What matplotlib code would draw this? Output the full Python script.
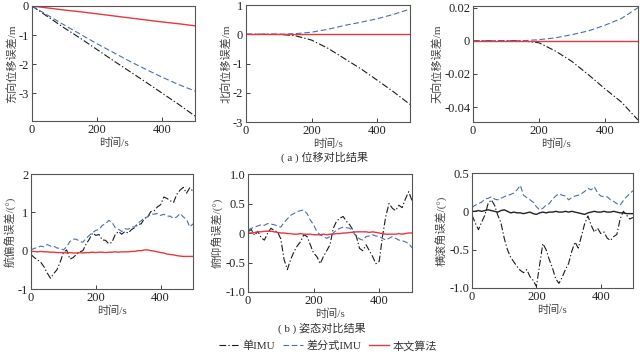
import numpy as np
import matplotlib
matplotlib.use('Agg')
import matplotlib.pyplot as plt

plt.rcParams['font.family'] = ['Liberation Serif', 'Noto Sans CJK SC']
plt.rcParams['axes.unicode_minus'] = False

# --- position errors (sampled every 50 s) ---
t_pos = [0, 50, 100, 150, 200, 250, 300, 350, 400, 450, 500]
east_single = [0, -0.38, -0.76, -1.12, -1.5, -1.88, -2.25, -2.62, -3.0, -3.38, -3.78]
east_diff = [0, -0.33, -0.66, -0.98, -1.3, -1.6, -1.9, -2.18, -2.45, -2.7, -2.92]
east_ours = [0, -0.07, -0.14, -0.2, -0.27, -0.34, -0.41, -0.48, -0.55, -0.61, -0.68]

north_single = [0, 0.0, 0.0, -0.05, -0.2, -0.48, -0.83, -1.18, -1.57, -1.97, -2.4]
north_diff = [0, 0.0, 0.0, 0.02, 0.07, 0.17, 0.3, 0.41, 0.53, 0.68, 0.86]
north_ours = [0, 0, 0, 0, 0, 0, 0, 0, 0, 0, 0]

up_single = [0, 0, 0, 0, -0.0012, -0.0062, -0.0125, -0.0205, -0.029, -0.037, -0.0478]
up_diff = [0, 0, 0, 0, 0.0007, 0.0018, 0.0037, 0.006, 0.0094, 0.0135, 0.02]
up_ours = [0, 0, 0, 0, 0, 0, 0, 0, 0, 0, 0]

# --- attitude errors (sampled every 10 s) ---
t_att = list(range(0, 501, 10))
yaw_single = [-0.1, -0.18, -0.24, -0.3, -0.42, -0.58, -0.72, -0.6, -0.5, -0.3,
              -0.05, 0.02, -0.22, -0.18, -0.1, -0.03, 0.0, 0.17, 0.3, 0.46,
              0.4, 0.42, 0.28, 0.27, 0.18, 0.22, 0.42, 0.5, 0.43, 0.5,
              0.46, 0.55, 0.6, 0.68, 0.7, 0.84, 0.88, 1.02, 1.04, 1.14,
              1.2, 1.4, 1.36, 1.3, 1.26, 1.47, 1.58, 1.65, 1.5, 1.64, 1.55]
yaw_diff = [0.02, 0.06, 0.08, 0.12, 0.1, 0.16, 0.12, 0.12, 0.07, 0.06,
            0.02, 0.1, 0.24, 0.3, 0.3, 0.24, 0.22, 0.32, 0.4, 0.47,
            0.53, 0.55, 0.66, 0.7, 0.79, 0.74, 0.6, 0.56, 0.5, 0.57,
            0.56, 0.62, 0.62, 0.72, 0.78, 0.86, 0.88, 0.96, 0.95, 0.97,
            0.92, 0.95, 0.9, 0.9, 0.84, 0.88, 0.97, 0.88, 0.82, 0.62, 0.7]
yaw_ours = [-0.02, -0.02, -0.03, -0.02, -0.03, -0.03, -0.04, -0.04, -0.05, -0.05,
            -0.05, -0.06, -0.05, -0.06, -0.06, -0.05, -0.06, -0.05, -0.05, -0.04,
            -0.05, -0.04, -0.04, -0.05, -0.04, -0.04, -0.03, -0.04, -0.03, -0.03,
            -0.03, -0.02, -0.02, 0.0, 0.0, 0.02, 0.02, 0.0, -0.01, -0.03,
            -0.05, -0.06, -0.09, -0.1, -0.11, -0.13, -0.14, -0.15, -0.15, -0.15, -0.15]

pitch_single = [0.02, 0.06, -0.04, 0.03, -0.08, -0.12, 0.0, 0.08, 0.04, 0.02,
                -0.1, -0.45, -0.62, -0.45, -0.32, -0.22, -0.15, -0.03, -0.06, -0.2,
                -0.34, -0.4, -0.52, -0.4, -0.3, -0.2, 0.08, 0.2, 0.25, 0.28,
                0.2, 0.14, 0.05, -0.05, -0.26, -0.3, -0.2, -0.3, -0.4, -0.52,
                -0.48, -0.06, 0.28, 0.5, 0.42, 0.38, 0.47, 0.43, 0.58, 0.7, 0.55]
pitch_diff = [0.05, 0.08, 0.1, 0.12, 0.14, 0.13, 0.16, 0.15, 0.14, 0.12,
              0.1, 0.18, 0.24, 0.3, 0.33, 0.36, 0.38, 0.39, 0.33, 0.22,
              0.14, 0.02, -0.03, -0.06, -0.09, -0.06, 0.0, 0.05, 0.08, 0.1,
              0.09, 0.08, 0.02, -0.06, -0.1, -0.12, -0.06, -0.05, -0.03, -0.05,
              -0.06, -0.09, -0.12, -0.09, -0.06, -0.09, -0.12, -0.13, -0.15, -0.18, -0.25]
pitch_ours = [0.0, 0.0, 0.01, 0.02, 0.02, 0.03, 0.03, 0.03, 0.02, 0.01,
              0.0, 0.0, -0.01, -0.01, -0.02, -0.02, -0.01, -0.02, -0.02, -0.02,
              -0.03, -0.03, -0.03, -0.02, -0.03, -0.02, -0.02, -0.01, -0.01, 0.0,
              0.0, 0.01, 0.01, 0.02, 0.02, 0.02, 0.02, 0.01, 0.02, 0.01,
              0.0, -0.01, -0.02, -0.02, -0.02, -0.02, -0.01, -0.02, -0.01, 0.0, 0.0]

roll_single = [-0.05, -0.15, -0.24, -0.14, -0.05, 0.1, 0.15, 0.08, -0.05, -0.15,
               -0.35, -0.5, -0.6, -0.66, -0.72, -0.77, -0.8, -0.76, -0.85, -0.9,
               -0.98, -0.7, -0.42, -0.5, -0.63, -0.74, -0.88, -0.94, -0.86, -0.76,
               -0.68, -0.52, -0.4, -0.48, -0.32, -0.16, -0.06, -0.18, -0.27, -0.22,
               -0.29, -0.27, -0.35, -0.38, -0.33, -0.3, -0.1, 0.0, -0.05, -0.1, -0.08]
roll_diff = [0.05, 0.08, 0.1, 0.12, 0.16, 0.17, 0.19, 0.16, 0.15, 0.17,
             0.19, 0.21, 0.22, 0.24, 0.28, 0.34, 0.21, 0.18, 0.15, 0.12,
             0.06, 0.02, 0.04, 0.08, 0.1, 0.16, 0.2, 0.23, 0.21, 0.2,
             0.15, 0.18, 0.2, 0.21, 0.23, 0.26, 0.3, 0.28, 0.32, 0.24,
             0.2, 0.19, 0.19, 0.15, 0.13, 0.1, 0.08, 0.14, 0.19, 0.23, 0.27]
roll_ours = [0.0, 0.0, 0.01, 0.0, 0.01, 0.02, 0.01, 0.0, -0.01, 0.01,
             0.02, 0.0, -0.02, -0.01, -0.02, -0.02, -0.03, -0.02, -0.01, -0.03,
             -0.04, -0.02, -0.01, -0.02, -0.01, -0.01, 0.0, -0.01, -0.01, 0.0,
             -0.01, 0.0, -0.01, -0.02, -0.03, -0.04, -0.02, -0.01, 0.0, -0.01,
             -0.01, 0.0, -0.01, -0.01, 0.0, -0.01, -0.02, -0.02, -0.03, -0.03, -0.03]

labels = ['单IMU', '差分式IMU', '本文算法']
c_single, c_diff, c_ours = '#1a1a1a', '#4a6db5', '#e8383d'
ls_single = (0, (6, 2, 1.2, 2))
ls_diff = (0, (5, 2.5))

fig = plt.figure(figsize=(6.4, 3.52), dpi=100)
W, H = 640, 352

def add_ax(l, r, t, b):
    return fig.add_axes([l / W, 1 - b / H, (r - l) / W, (b - t) / H])

panels = [
    (add_ax(32, 195, 6, 121), t_pos, east_single, east_diff, east_ours, c_ours,
     '东向位移误差/m', (-3.95, 0), [0, -1, -2, -3], ['0', '-1', '-2', '-3']),
    (add_ax(246, 410, 5, 122), t_pos, north_single, north_diff, north_ours, c_ours,
     '北向位移误差/m', (-3, 1), [1, 0, -1, -2, -3], ['1', '0', '-1', '-2', '-3']),
    (add_ax(473, 638, 6, 122), t_pos, up_single, up_diff, up_ours, c_ours,
     '天向位移误差/m', (-0.049, 0.021), [0.02, 0, -0.02, -0.04], ['0.02', '0', '-0.02', '-0.04']),
    (add_ax(31, 193, 174, 289), t_att, yaw_single, yaw_diff, yaw_ours, c_ours,
     '航偏角误差/(°)', (-1, 2), [2, 1, 0, -1], ['2', '1', '0', '-1']),
    (add_ax(248, 412, 174, 292), t_att, pitch_single, pitch_diff, pitch_ours, c_ours,
     '俯仰角误差/(°)', (-1, 1), [1, 0.5, 0, -0.5, -1], ['1.0', '0.5', '0', '-0.5', '-1.0']),
    (add_ax(472, 633, 173, 288), t_att, roll_single, roll_diff, roll_ours, '#222222',
     '横滚角误差/(°)', (-1, 0.5), [0.5, 0, -0.5, -1], ['0.5', '0', '-0.5', '-1.0']),
]

handles = None
for ax, t, s1, s2, s3, c3, ylab, ylim, yt, ytl in panels:
    h1, = ax.plot(t, s1, color=c_single, ls=ls_single, lw=0.8)
    h2, = ax.plot(t, s2, color=c_diff, ls=ls_diff, lw=0.8)
    h3, = ax.plot(t, s3, color=c3, lw=1.0)
    if handles is None:
        handles = [h1, h2, h3]
    ax.set_xlim(0, 500)
    ax.set_ylim(*ylim)
    ax.set_xticks([0, 200, 400])
    ax.set_yticks(yt)
    ax.set_yticklabels(ytl)
    ax.tick_params(direction='in', length=3, width=0.6, labelsize=9, colors='#222222', pad=2)
    for sp in ax.spines.values():
        sp.set_color('#555555')
        sp.set_linewidth(0.8)
    ax.set_xlabel('时间/s', fontsize=8, color='#444444', labelpad=1)
    ax.set_ylabel(ylab, fontsize=8, color='#444444', labelpad=1)

fig.text(325 / W, 1 - 157 / H, '( a ) 位移对比结果', ha='center', va='center', fontsize=8, color='#333333')
fig.text(322 / W, 1 - 328 / H, '( b ) 姿态对比结果', ha='center', va='center', fontsize=8, color='#333333')
ours_handle = plt.Line2D([], [], color=c_ours, lw=1.0)
fig.legend([handles[0], handles[1], ours_handle], labels, loc='center',
           bbox_to_anchor=(328 / W, 1 - 346 / H), ncol=3, frameon=False,
           fontsize=8, handlelength=1.8, handletextpad=0.3, columnspacing=0.7,
           labelcolor='#333333')

fig.savefig('out.png', dpi=100)
